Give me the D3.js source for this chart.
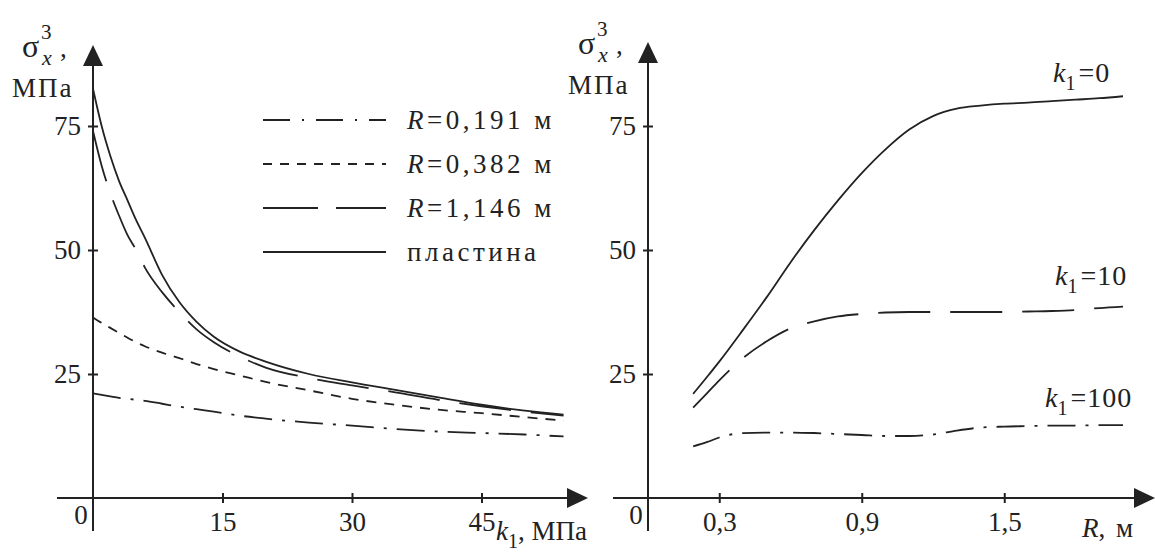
<!DOCTYPE html>
<html>
<head>
<meta charset="utf-8">
<script src="https://cdn.jsdelivr.net/npm/d3@7"></script>
<style>
  body { margin: 0; background: #fff; }
  svg text { font-family: "Liberation Serif", serif; fill: #222; }
</style>
</head>
<body>
<div id="chart"></div>
<script>
// Left panel: sigma vs k1 for several R
const leftK = [0, 1, 2, 3, 4, 5, 6, 8, 10, 12, 14, 17, 20, 25, 30, 35, 40, 45, 50, 54.5];
const plate = [82.5, 75, 69, 64, 60, 56, 52.5, 45, 39.5, 35.5, 32.5, 29.5, 27.5, 25, 23.3, 21.8, 20.3, 18.8, 17.6, 16.8];
const r1146 = [74, 67, 61.5, 57, 53, 50, 46.5, 41.5, 37.5, 34, 31.4, 28.5, 26.3, 24.2, 22.7, 21.3, 19.8, 18.5, 17.4, 16.6];
const r0382 = [36.4, 35.3, 34.3, 33.3, 32.3, 31.4, 30.6, 29.3, 28.2, 27, 26, 24.7, 23.4, 21.7, 20, 18.8, 17.8, 17.1, 16.3, 15.6];
const r0191 = [21.1, 20.8, 20.5, 20.2, 20, 19.8, 19.6, 19, 18.4, 17.9, 17.4, 16.6, 16, 15.2, 14.6, 13.9, 13.4, 13.1, 12.8, 12.4];
const legendLabels = ['0,191', '0,382', '1,146', 'пластина'];
const leftTicksX = [15, 30, 45];

// Right panel: sigma vs R for several k1
const rightR = [0.19, 0.25, 0.3, 0.4, 0.5, 0.6, 0.7, 0.8, 0.9, 1.0, 1.1, 1.2, 1.3, 1.4, 1.5, 1.6, 1.7, 1.8, 1.9, 2.0];
const k0 = [21, 24.5, 27.5, 33.9, 40.5, 47.5, 54, 60, 65.5, 70.3, 74.3, 77, 78.5, 79.1, 79.5, 79.7, 80, 80.3, 80.6, 81];
const k10 = [18.2, 21.2, 23.7, 28.2, 31.6, 34.2, 35.6, 36.6, 37.1, 37.4, 37.5, 37.5, 37.5, 37.5, 37.5, 37.6, 37.7, 37.9, 38.3, 38.6];
const k100 = [10.4, 11.3, 12.2, 13.1, 13.2, 13.2, 13.1, 12.9, 12.7, 12.5, 12.5, 12.8, 13.6, 14.2, 14.4, 14.5, 14.6, 14.6, 14.7, 14.7];
const k1Labels = ['0', '10', '100'];
const rightTicksX = [0.3, 0.9, 1.5];
const yTicks = [25, 50, 75];

const W = 1155, H = 552;
const INK = '#222';
const FONT = '"Liberation Serif", serif';
const DASH_DOT = '28,10,3,10';
const SHORT_DASH = '10,8';
const LONG_DASH = '52,20';

const svg = d3.select('#chart')
    .append('svg')
    .attr('width', W)
    .attr('height', H)
    .style('font-family', FONT);

svg.append('rect').attr('width', W).attr('height', H).attr('fill', '#fff');

// Scales
const xL = d3.scaleLinear().domain([0, 15]).range([93, 222.5]);
const xR = d3.scaleLinear().domain([0, 0.6]).range([648, 790.5]);
const y = d3.scaleLinear().domain([0, 25]).range([498, 374]);

function drawAxes(x, x0, xStart, xEnd, yTop, ticksX, fmt) {
    const y0 = y(0);
    // axis lines
    svg.append('line')
        .attr('x1', xStart).attr('x2', xEnd - 12)
        .attr('y1', y0).attr('y2', y0)
        .attr('stroke', INK).attr('stroke-width', 2);
    svg.append('line')
        .attr('x1', x0).attr('x2', x0)
        .attr('y1', 531).attr('y2', yTop + 12)
        .attr('stroke', INK).attr('stroke-width', 2);
    // arrow heads
    svg.append('path')
        .attr('d', `M${xEnd},${y0} L${xEnd - 21},${y0 - 10} L${xEnd - 21},${y0 + 10} Z`)
        .attr('fill', INK);
    svg.append('path')
        .attr('d', `M${x0},${yTop} L${x0 - 10},${yTop + 21} L${x0 + 10},${yTop + 21} Z`)
        .attr('fill', INK);

    // ticks via d3 axes
    const gx = svg.append('g')
        .attr('transform', `translate(0,${y0 - 5})`)
        .call(d3.axisBottom(x).tickValues(ticksX).tickSize(10).tickFormat(fmt))
        .attr('font-family', FONT);
    gx.select('.domain').remove();
    gx.selectAll('line').attr('stroke', INK).attr('stroke-width', 2);
    gx.selectAll('text')
        .attr('y', 38).attr('dy', 0)
        .attr('font-size', 27)
        .attr('fill', INK);

    const gy = svg.append('g')
        .attr('transform', `translate(${x0 + 5},0)`)
        .call(d3.axisLeft(y).tickValues(yTicks).tickSize(10).tickPadding(7))
        .attr('font-family', FONT);
    gy.select('.domain').remove();
    gy.selectAll('line').attr('stroke', INK).attr('stroke-width', 2);
    gy.selectAll('text')
        .attr('font-size', 27)
        .attr('fill', INK);

    // origin label
    svg.append('text')
        .attr('x', x0 - 12).attr('y', 524)
        .attr('text-anchor', 'middle')
        .attr('font-size', 27)
        .text('0');
}

drawAxes(xL, 93, 57, 588, 45, leftTicksX, d => d);
drawAxes(xR, 648, 613, 1155, 42, rightTicksX, d => d3.format('.1f')(d).replace('.', ','));

// y axis titles
function yTitle(x, yb) {
    svg.append('text').attr('x', x).attr('y', yb).attr('font-size', 32).text('σ');
    svg.append('text').attr('x', x + 19).attr('y', yb - 18).attr('font-size', 21).text('3');
    svg.append('text').attr('x', x + 20).attr('y', yb + 8).attr('font-size', 22)
        .style('font-style', 'italic').text('x');
    svg.append('text').attr('x', x + 38).attr('y', yb).attr('font-size', 27).text(',');
    svg.append('text').attr('x', x - 10).attr('y', yb + 40).attr('font-size', 27)
        .style('letter-spacing', '2px').text('МПа');
}
yTitle(22, 57);
yTitle(578, 54);

// x axis titles
const xt1 = svg.append('text').attr('x', 496).attr('y', 540).attr('font-size', 27);
xt1.append('tspan').style('font-style', 'italic').text('k');
xt1.append('tspan').attr('dy', 8).attr('font-size', 20).text('1');
xt1.append('tspan').attr('dy', -8).text(', МПа');

const xt2 = svg.append('text').attr('x', 1082).attr('y', 537).attr('font-size', 27);
xt2.append('tspan').style('font-style', 'italic').text('R');
xt2.append('tspan').text(', м').style('letter-spacing', '2px');

// curves
const line = (x, xs) => d3.line()
    .x((d, i) => x(xs[i]))
    .y(d => y(d))
    .curve(d3.curveMonotoneX);

const leftSeries = [
    { vals: r0191, dash: DASH_DOT },
    { vals: r0382, dash: SHORT_DASH },
    { vals: r1146, dash: LONG_DASH },
    { vals: plate, dash: null }
];

svg.selectAll('.left-curve')
    .data(leftSeries)
    .enter()
    .append('path')
    .attr('class', 'left-curve')
    .attr('d', d => line(xL, leftK)(d.vals))
    .attr('fill', 'none')
    .attr('stroke', INK)
    .attr('stroke-width', 1.8)
    .attr('stroke-dasharray', d => d.dash);

const rightSeries = [
    { vals: k0, dash: null },
    { vals: k10, dash: LONG_DASH },
    { vals: k100, dash: DASH_DOT }
];

svg.selectAll('.right-curve')
    .data(rightSeries)
    .enter()
    .append('path')
    .attr('class', 'right-curve')
    .attr('d', d => line(xR, rightR)(d.vals))
    .attr('fill', 'none')
    .attr('stroke', INK)
    .attr('stroke-width', 1.8)
    .attr('stroke-dasharray', d => d.dash);

// legend (left panel)
const legY = [120, 164, 208, 252];
const legDash = ['27,12,2,12', '9,8', '55,18', null];
leftSeries.forEach((s, i) => {
    svg.append('line')
        .attr('x1', 263).attr('x2', 386)
        .attr('y1', legY[i]).attr('y2', legY[i])
        .attr('stroke', INK).attr('stroke-width', 1.8)
        .attr('stroke-dasharray', legDash[i]);
    const t = svg.append('text')
        .attr('x', 407).attr('y', legY[i] + 9)
        .attr('font-size', 27)
        .style('letter-spacing', '3.5px');
    if (i < 3) {
        t.append('tspan').style('font-style', 'italic').text('R');
        t.append('tspan').text('=' + legendLabels[i] + ' м');
    } else {
        t.text(legendLabels[i]);
    }
});

// k1 labels (right panel)
const kLab = [
    { x: 1053, y: 82 },
    { x: 1055, y: 285 },
    { x: 1045, y: 407 }
];
k1Labels.forEach((lab, i) => {
    const t = svg.append('text')
        .attr('x', kLab[i].x).attr('y', kLab[i].y)
        .attr('font-size', 28);
    t.append('tspan').style('font-style', 'italic').text('k');
    t.append('tspan').attr('dy', 8).attr('font-size', 20).text('1');
    t.append('tspan').attr('dy', -8).attr('dx', 3).style('letter-spacing', '1px').text('=' + lab);
});
</script>
</body>
</html>
